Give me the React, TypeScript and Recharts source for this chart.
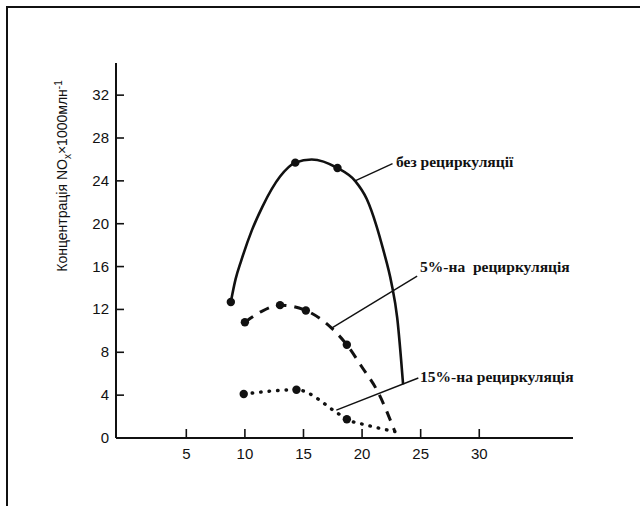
import React from 'react';
import {
  ComposedChart,
  Line,
  Scatter,
  XAxis,
  YAxis,
  ReferenceLine,
  ReferenceDot,
} from 'recharts';

// axis ticks
const xTicks = [5, 10, 15, 20, 25, 30];
const yTicks = [0, 4, 8, 12, 16, 20, 24, 28, 32];

// без рециркуляції (solid curve)
const noRecircX = [8.8, 9.2, 9.7, 10.6, 11.5, 13.0, 14.3, 15.7, 17.9, 19.4, 20.4, 21.2, 21.8, 22.5, 23.0, 23.5];
const noRecircY = [12.7, 14.8, 16.6, 19.4, 21.6, 24.4, 25.7, 26.0, 25.2, 24.0, 22.3, 19.9, 17.6, 14.5, 11.2, 5.0];
const noRecircMarkX = [8.8, 14.3, 17.9];
const noRecircMarkY = [12.7, 25.7, 25.2];

// 5%-на рециркуляція (dashed)
const recirc5X = [10.0, 11.4, 13.0, 15.2, 17.4, 18.7, 20.0, 21.3, 22.8];
const recirc5Y = [10.8, 11.8, 12.4, 11.9, 10.25, 8.7, 6.6, 4.4, 0.6];
const recirc5MarkX = [10.0, 13.0, 15.2, 18.7];
const recirc5MarkY = [10.8, 12.4, 11.9, 8.7];

// 15%-на рециркуляція (dotted)
const recirc15X = [9.9, 14.4, 17.8, 18.7, 20.4, 22.8];
const recirc15Y = [4.1, 4.5, 2.4, 1.75, 1.2, 0.6];
const recirc15MarkX = [9.9, 14.4, 18.7];
const recirc15MarkY = [4.1, 4.5, 1.75];

const toPoints = (xs: number[], ys: number[]) => xs.map((x, i) => ({ x, y: ys[i] }));

const Y_MARGIN = 6;
const X_MARGIN = 0;

const YTick = (props: any) => {
  const { x, y, payload } = props;
  const axisX = x + Y_MARGIN;
  return (
    <g>
      {payload.value !== 0 && (
        <line x1={axisX} x2={axisX + 8} y1={y} y2={y} stroke="#111" strokeWidth={1.6} />
      )}
      <text
        x={x - 1}
        y={y}
        dy={5}
        textAnchor="end"
        fontSize={15}
        fontFamily="'Liberation Sans', Arial, sans-serif"
        fill="#111"
      >
        {payload.value}
      </text>
    </g>
  );
};

const XTick = (props: any) => {
  const { x, y, payload } = props;
  const axisY = y - X_MARGIN;
  return (
    <g>
      <line x1={x} x2={x} y1={axisY - 9} y2={axisY} stroke="#111" strokeWidth={1.6} />
      <text
        x={x}
        y={axisY + 21}
        textAnchor="middle"
        fontSize={15}
        fontFamily="'Liberation Sans', Arial, sans-serif"
        fill="#111"
      >
        {payload.value}
      </text>
    </g>
  );
};

const YTitle = () => (
  <text
    x={67}
    y={176}
    transform="rotate(-90, 67, 176)"
    textAnchor="middle"
    fontSize={14}
    fontFamily="'Liberation Sans', Arial, sans-serif"
    fill="#111"
  >
    Концентрація NO
    <tspan dy={4} fontSize={10}>x</tspan>
    <tspan dy={-4}>×1000млн</tspan>
    <tspan dy={-5} fontSize={10}>-1</tspan>
  </text>
);

const noteLabel = (text: string) => (props: any) => {
  const { viewBox } = props;
  return (
    <text
      x={viewBox.x}
      y={viewBox.y}
      dy={5}
      fontSize={15.5}
      fontWeight="bold"
      fontFamily="'Liberation Serif', 'Times New Roman', serif"
      fill="#111"
      style={{ whiteSpace: 'pre' }}
    >
      {text}
    </text>
  );
};

const dotShape = (p: any) => <circle cx={p.cx} cy={p.cy} r={4.2} fill="#111" />;

const App: React.FC = () => {
  return (
    <div style={{ position: 'absolute', left: 0, top: 0, width: 640, height: 506, background: '#fff' }}>
      <div
        style={{
          position: 'absolute',
          left: 6,
          top: 6,
          right: 0,
          bottom: 0,
          borderTop: '2px solid #111',
          borderLeft: '2px solid #111',
        }}
      />
      <ComposedChart
        width={640}
        height={506}
        margin={{ top: 63, right: 67, bottom: 28, left: 0 }}
        style={{ position: 'absolute', left: 0, top: 0 }}
      >
        <XAxis
          type="number"
          dataKey="x"
          domain={[-1, 38]}
          ticks={xTicks}
          allowDataOverflow
          height={40}
          tickSize={0}
          tickMargin={X_MARGIN}
          tick={<XTick />}
          axisLine={{ stroke: '#111', strokeWidth: 2 }}
        />
        <YAxis
          type="number"
          dataKey="y"
          domain={[0, 35]}
          ticks={yTicks}
          allowDataOverflow
          width={116}
          tickSize={0}
          tickMargin={Y_MARGIN}
          tick={<YTick />}
          axisLine={{ stroke: '#111', strokeWidth: 2 }}
          label={<YTitle />}
        />

        <Line
          data={toPoints(noRecircX, noRecircY)}
          dataKey="y"
          type="monotone"
          stroke="#111"
          strokeWidth={2.6}
          dot={false}
          isAnimationActive={false}
        />
        <Line
          data={toPoints(recirc5X, recirc5Y)}
          dataKey="y"
          type="monotone"
          stroke="#111"
          strokeWidth={3}
          strokeDasharray="10 8"
          dot={false}
          isAnimationActive={false}
        />
        <Line
          data={toPoints(recirc15X, recirc15Y)}
          dataKey="y"
          type="monotone"
          stroke="#111"
          strokeWidth={3.4}
          strokeDasharray="0.5 8"
          strokeLinecap="round"
          dot={false}
          isAnimationActive={false}
        />

        <Scatter data={toPoints(noRecircMarkX, noRecircMarkY)} dataKey="y" shape={dotShape} isAnimationActive={false} />
        <Scatter data={toPoints(recirc5MarkX, recirc5MarkY)} dataKey="y" shape={dotShape} isAnimationActive={false} />
        <Scatter data={toPoints(recirc15MarkX, recirc15MarkY)} dataKey="y" shape={dotShape} isAnimationActive={false} />

        {/* leader lines to the curve names */}
        <ReferenceLine segment={[{ x: 19.4, y: 24.0 }, { x: 22.6, y: 25.6 }]} stroke="#111" strokeWidth={1.4} />
        <ReferenceLine segment={[{ x: 17.4, y: 10.25 }, { x: 24.7, y: 15.1 }]} stroke="#111" strokeWidth={1.4} />
        <ReferenceLine segment={[{ x: 17.8, y: 2.6 }, { x: 24.8, y: 5.6 }]} stroke="#111" strokeWidth={1.4} />

        <ReferenceDot x={22.9} y={25.8} r={0} fill="none" stroke="none" label={noteLabel('без рециркуляції')} />
        <ReferenceDot x={24.95} y={16.0} r={0} fill="none" stroke="none" label={noteLabel('5%-на  рециркуляція')} />
        <ReferenceDot x={24.95} y={5.7} r={0} fill="none" stroke="none" label={noteLabel('15%-на рециркуляція')} />
      </ComposedChart>
    </div>
  );
};

export default App;
